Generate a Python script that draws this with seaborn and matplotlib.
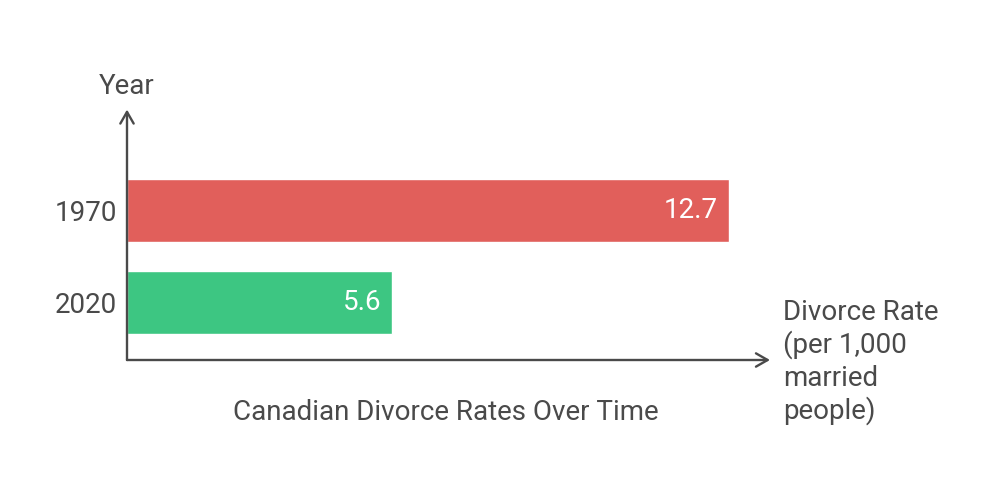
import matplotlib
matplotlib.use("Agg")
import matplotlib.pyplot as plt
import seaborn as sns
import pandas as pd

years = ["1970", "2020"]
rates = [12.7, 5.6]
bar_colors = ["#E15F5B", "#3DC682"]
title = "Canadian Divorce Rates Over Time"
x_label_lines = ["Divorce Rate", "(per 1,000", "married", "people)"]
y_label = "Year"

sns.set_theme(style="white")
plt.rcParams['font.family'] = ['Roboto', 'DejaVu Sans']
TXT = "#4a4a4a"
FS = 20

df = pd.DataFrame({"year": years, "rate": rates})

W, H = 1000, 497
fig = plt.figure(figsize=(10, 4.97), dpi=100)
x0, x1 = 127, 770
ytop, ybot = 112, 360
ax = fig.add_axes([x0 / W, (H - ybot) / H, (x1 - x0) / W, (ybot - ytop) / H])

sns.barplot(data=df, y="year", x="rate", hue="year", palette=bar_colors,
            order=years, orient="h", width=0.685, legend=False, ax=ax,
            saturation=1)

px_per_unit = 47.4
ax.set_xlim(0, (x1 - x0) / px_per_unit)
ax.set_ylim(1 + (ybot - 302.5) / 92, 0 - (210.5 - ytop) / 92)

for s in ax.spines.values():
    s.set_visible(False)
ax.set_xticks([])
ax.set_yticks(range(len(years)))
ax.set_yticklabels(years, fontsize=FS, color=TXT)
ax.tick_params(axis="y", length=0, pad=7)
ax.set_xlabel("")
ax.set_ylabel("")

# arrows
arrow_kw = dict(arrowstyle="->,head_length=0.7,head_width=0.4", color=TXT, lw=1.7,
                shrinkA=0, shrinkB=0)
ax.annotate("", xy=(0, 1.01), xytext=(0, 0), xycoords="axes fraction",
            arrowprops=arrow_kw, annotation_clip=False)
ax.annotate("", xy=(1.0, 0), xytext=(0, 0), xycoords="axes fraction",
            arrowprops=arrow_kw, annotation_clip=False)

# value labels
for i, v in enumerate(rates):
    ax.text(v - 0.23, i, f"{v}", color="white", fontsize=FS,
            ha="right", va="center")

fig.text(127 / W, 1 - 86 / H, y_label, fontsize=FS, color=TXT,
         ha="center", va="center")
fig.text(446 / W, 1 - 412 / H, title, fontsize=FS, color=TXT,
         ha="center", va="center")
for k, line in enumerate(x_label_lines):
    fig.text(783 / W, 1 - (312 + 33 * k) / H, line, fontsize=FS, color=TXT,
             ha="left", va="center")

fig.savefig("out.png", dpi=100, facecolor="white")
